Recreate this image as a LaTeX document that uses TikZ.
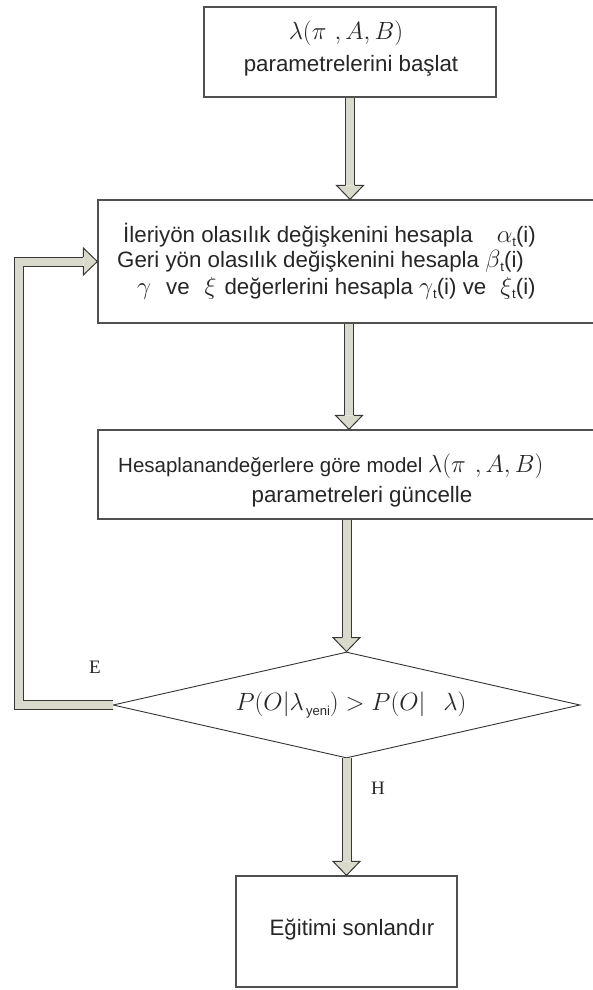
\documentclass[tikz,border=0pt]{standalone}
\usepackage{fontspec}
\setmainfont{Liberation Sans}
\newfontfamily\labfam{Liberation Serif}
\usetikzlibrary{calc,shapes.geometric}
\definecolor{arrfill}{RGB}{218,218,204}
\definecolor{arrdraw}{RGB}{55,55,55}
\definecolor{boxdraw}{RGB}{80,80,80}
\newcommand\gk[1]{{\fontsize{25}{28}\selectfont$#1$}}
\newcommand\sbt[1]{\raisebox{-0.35ex}{\fontsize{13}{15}\selectfont #1}}
\newcommand\blkarrow[2]{%
  \coordinate (hb) at ($(#2)!14pt!(#1)$);
  \draw[shaftst] (#1) -- (hb);
  \filldraw[headst] ($(hb)!4.5pt!90:(#2)$) -- ($(hb)!13.5pt!90:(#2)$) -- (#2)
     -- ($(hb)!13.5pt!-90:(#2)$) -- ($(hb)!4.5pt!-90:(#2)$);
}
\begin{document}
\begin{tikzpicture}[x=1pt,y=-1pt,
  box/.style={draw=boxdraw, line width=1.3pt, fill=white, rectangle, inner sep=0pt},
  dia/.style={draw=black!80, line width=0.9pt, diamond, inner sep=0pt},
  txt/.style={inner sep=0pt, font=\fontsize{22.3}{26}\selectfont, text=black!85},
  lab/.style={inner sep=0pt, font=\labfam\fontsize{19}{22}\selectfont, text=black!85},
  shaftst/.style={draw=arrdraw, line width=1pt, double=arrfill, double distance=8pt, line join=miter},
  headst/.style={draw=arrdraw, fill=arrfill, line width=1pt, line join=miter}]
\useasboundingbox (0,0) rectangle (593,990);
\clip (0,0) rectangle (593,990);

% boxes
\node[box, minimum width=292, minimum height=90] (b1) at (350,52) {};
\node[box, minimum width=502, minimum height=123] (b2) at (349,261.5) {};
\node[box, minimum width=502, minimum height=89] (b3) at (349,474.5) {};
\node[dia, minimum width=467, minimum height=106] (dia) at (346.5,705) {};
\node[box, minimum width=221, minimum height=111] (b4) at (346.5,931.5) {};

% texts
\node[inner sep=0pt, font=\fontsize{29}{32}\selectfont, text=black!85] (t1a) at (346,33) {$\lambda(\pi\ ,A,B)$};
\node[txt] (t1b) at (351,66) {parametrelerini başlat};
\node[txt, anchor=west] (t2a) at (123,235) {İleriyön olasılık değişkenini hesapla\hspace{24pt}\gk{\alpha}\sbt{t}(i)};
\node[txt, anchor=west] (t2b) at (117,261) {Geri yön olasılık değişkenini hesapla \gk{\beta}\sbt{t}(i)};
\node[txt, anchor=west] (t2c) at (137,288) {\gk{\gamma}\hspace{15pt}ve\hspace{15pt}\gk{\xi}\hspace{8pt}değerlerini hesapla \gk{\gamma}\sbt{t}(i) ve\hspace{14pt}\gk{\xi}\sbt{t}(i)};
\node[txt, anchor=west, font=\fontsize{20.5}{24}\selectfont] (t3a) at (118,466) {Hesaplanandeğerlere göre model {\fontsize{32}{36}\selectfont$\lambda(\pi\ ,A,B)$}};
\node[txt] (t3b) at (362,497) {parametreleri güncelle};
\node[inner sep=0pt, font=\fontsize{32}{36}\selectfont, text=black!85] (tdia) at (351,705) {$P(O\big|\lambda$\sbt{\,yeni}$) > P(O\big|\ \ \lambda)$};
\node[txt] (t4) at (352,930) {Eğitimi sonlandır};
\node[lab] (lE) at (95,667) {E};
\node[lab] (lH) at (378,788) {H};

% connectors
\blkarrow{b1.south}{b1.south |- b2.north}
\blkarrow{b2.south}{b2.south |- b3.north}
\blkarrow{dia.north |- b3.south}{dia.north}
\blkarrow{dia.south}{dia.south |- b4.north}

\coordinate (fbx) at (19,0);
\coordinate (fhb) at ($(b2.west)!14pt!(fbx |- b2.west)$);
\draw[shaftst] (dia.west) -- (dia.west -| fbx) -- (fbx |- b2.west) -- (fhb);
\filldraw[headst] ($(fhb)!4.5pt!90:(b2.west)$) -- ($(fhb)!13.5pt!90:(b2.west)$) -- (b2.west)
   -- ($(fhb)!13.5pt!-90:(b2.west)$) -- ($(fhb)!4.5pt!-90:(b2.west)$);
\end{tikzpicture}
\end{document}
